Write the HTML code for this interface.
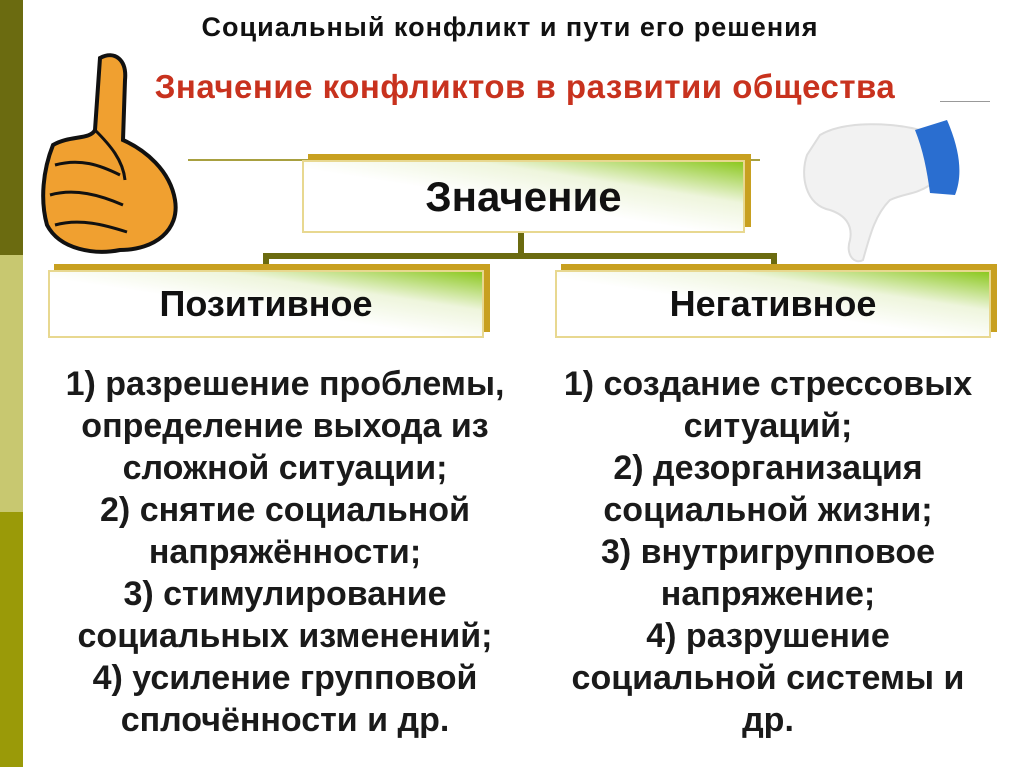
<!DOCTYPE html>
<html><head><meta charset="utf-8"><style>
body{margin:0;width:1024px;height:767px;position:relative;background:#fff;font-family:"Liberation Sans","Noto Sans CJK SC",sans-serif;overflow:hidden}
.a{position:absolute}
.box{position:absolute;border:2px solid #e8d890;background:linear-gradient(to top right,#fff 45%,#eef5dc 70%,#8cc820 100%);box-shadow:6px -6px 0 #c8a020;display:flex;align-items:center;justify-content:center;font-weight:bold;color:#111;box-sizing:border-box}
.list{position:absolute;text-align:center;font-weight:bold;font-size:34px;line-height:42px;color:#1a1a1a;white-space:nowrap}
</style></head><body>
<div class="a" style="left:0;top:0;width:23px;height:255px;background:#6b6b10"></div>
<div class="a" style="left:0;top:255px;width:23px;height:257px;background:#c8c870"></div>
<div class="a" style="left:0;top:512px;width:23px;height:255px;background:#9a9a08"></div>
<div class="a" style="left:100px;top:12px;width:820px;text-align:center;font-weight:bold;font-size:27px;letter-spacing:1px;color:#111;white-space:nowrap">Социальный конфликт и пути его решения</div>
<div class="a" style="left:100px;top:68px;width:850px;text-align:center;font-weight:bold;font-size:33px;letter-spacing:0.5px;color:#c8321e;white-space:nowrap">Значение конфликтов в развитии общества</div>
<div class="a" style="left:188px;top:159px;width:572px;height:2px;background:#a8a040"></div>
<div class="a" style="left:940px;top:101px;width:50px;height:1px;background:#999"></div>
<div class="box" style="left:302px;top:160px;width:443px;height:73px;font-size:42px">Значение</div>
<div class="a" style="left:518px;top:233px;width:6px;height:24px;background:#6b6b10"></div>
<div class="a" style="left:263px;top:253px;width:514px;height:6px;background:#6b6b10"></div>
<div class="a" style="left:263px;top:253px;width:6px;height:14px;background:#6b6b10"></div>
<div class="a" style="left:771px;top:253px;width:6px;height:14px;background:#6b6b10"></div>
<div class="box" style="left:48px;top:270px;width:436px;height:68px;font-size:36px">Позитивное</div>
<div class="box" style="left:555px;top:270px;width:436px;height:68px;font-size:36px">Негативное</div>
<div class="list" style="left:20px;top:363px;width:530px">1) разрешение проблемы,<br>определение выхода из<br>сложной ситуации;<br>2) снятие социальной<br>напряжённости;<br>3) стимулирование<br>социальных изменений;<br>4) усиление групповой<br>сплочённости и др.</div>
<div class="list" style="left:503px;top:363px;width:530px">1) создание стрессовых<br>ситуаций;<br>2) дезорганизация<br>социальной жизни;<br>3) внутригрупповое<br>напряжение;<br>4) разрушение<br>социальной системы и<br>др.</div>
<svg class="a" style="left:35px;top:50px" width="160" height="205" viewBox="0 0 160 205">
<path d="M65 8 C80 0 92 10 90 30 L88 90 C110 100 135 120 140 150 C145 180 120 200 85 200 C60 205 25 200 12 175 C5 150 8 120 18 95 C35 85 55 90 60 80 Z" fill="#f0a030" stroke="#111" stroke-width="4"/>
<path d="M20 115 C45 108 65 115 85 125 M15 145 C40 138 65 145 88 155 M20 175 C45 168 70 175 92 182 M60 80 C75 95 88 110 90 130" fill="none" stroke="#111" stroke-width="3"/>
</svg>
<svg class="a" style="left:795px;top:115px" width="170" height="150" viewBox="0 0 170 150">
<path d="M25 20 C50 5 100 8 125 15 L135 70 C120 80 110 78 95 85 C80 100 75 120 68 145 C60 150 50 140 55 125 C58 110 50 100 35 95 C10 90 5 60 12 40 Z" fill="#f2f2f2" stroke="#ddd" stroke-width="2"/>
<path d="M120 15 L152 5 C165 35 168 60 160 80 L135 78 C132 55 128 35 120 15 Z" fill="#2a6ed0"/>
</svg>
</body></html>
